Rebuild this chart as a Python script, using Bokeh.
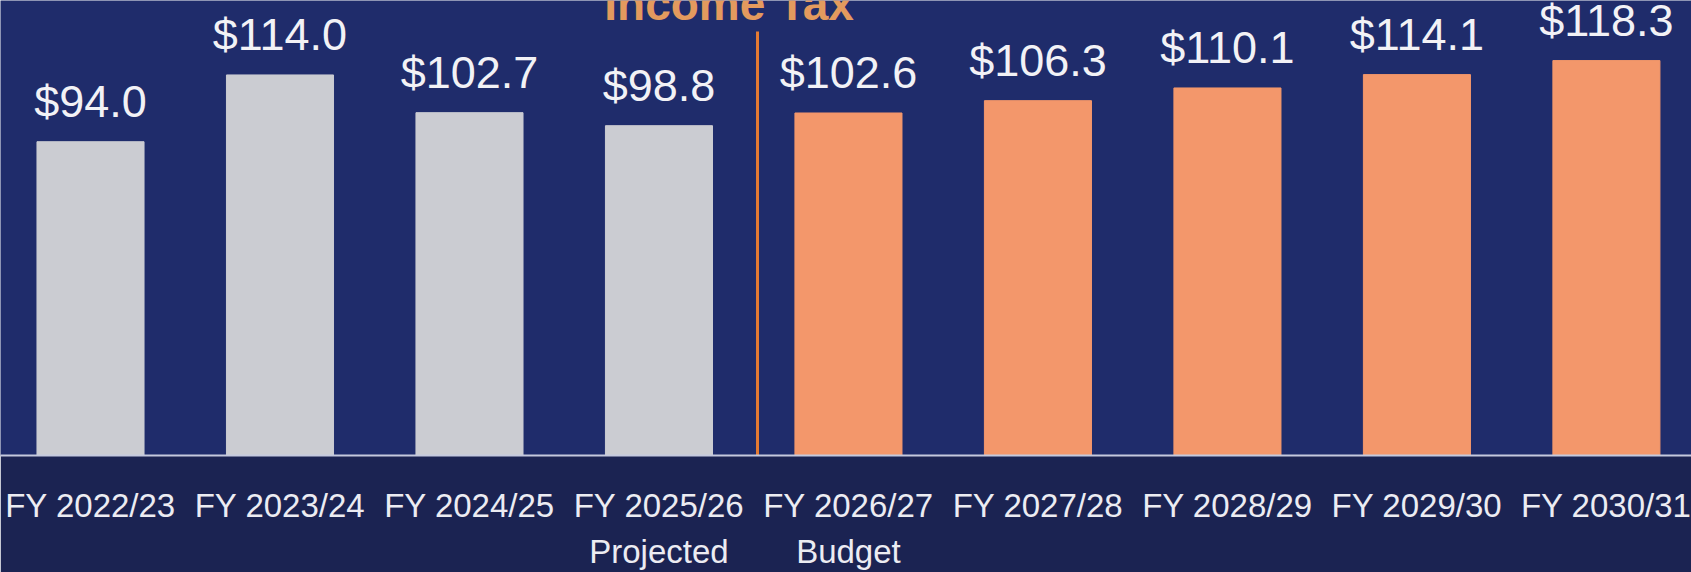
from bokeh.plotting import figure
from bokeh.models import ColumnDataSource, Range1d, FixedTicker, LabelSet, Label
from bokeh.core.properties import value
from bokeh.embed import file_html
from bokeh.resources import INLINE

categories = ["FY 2022/23", "FY 2023/24", "FY 2024/25", "FY 2025/26", "FY 2026/27",
              "FY 2027/28", "FY 2028/29", "FY 2029/30", "FY 2030/31"]
values = [94.0, 114.0, 102.7, 98.8, 102.6, 106.3, 110.1, 114.1, 118.3]
sublabels = {3: "Projected", 4: "Budget"}
title_text = "Income Tax"
n_actual = 4  # first bars (actual / projected) in grey, budget & forecast in orange

GREY = "#cbccd2"
ORANGE = "#f3976b"
BG = "#1f2c6b"
BORDER = "#1b2352"
FONT = "Liberation Sans"

idx = list(range(len(categories)))
colors = [GREY if i < n_actual else ORANGE for i in idx]
labels = ["$%.1f" % v for v in values]
tick_text = {i: (c + "\n" + sublabels[i]) if i in sublabels else c
             for i, c in zip(idx, categories)}

src = ColumnDataSource(dict(x=idx, top=values, color=colors, label=labels))

p = figure(width=1691, height=572, output_backend="svg", toolbar_location=None,
           x_range=Range1d(-0.475, 8.449), y_range=Range1d(0, 136.3),
           min_border_left=0, min_border_right=0, min_border_top=0, min_border_bottom=116)
p.background_fill_color = BG
p.border_fill_color = BORDER
p.outline_line_color = None
p.xgrid.visible = False
p.ygrid.visible = False
p.yaxis.visible = False

p.vbar(x="x", top="top", width=0.565, color="color", source=src)

# divider between projected and budget years
p.segment(x0=[3.52], y0=[0], x1=[3.52], y1=[127.0], line_color="#e57b33", line_width=3)

lbl = LabelSet(x="x", y="top", text="label", source=src, y_offset=25,
               text_align="center", text_baseline="alphabetic",
               text_font=value(FONT), text_font_size="45px", text_color="#f2f2f6")
p.add_layout(lbl)

ax = p.xaxis[0]
ax.ticker = FixedTicker(ticks=idx)
ax.major_label_overrides = tick_text
ax.major_label_text_font = FONT
ax.major_label_text_font_size = "33px"
ax.major_label_text_color = "#ececf2"
ax.major_label_text_line_height = 1.25
ax.major_label_standoff = 25
ax.major_tick_line_color = None
ax.minor_tick_line_color = None
ax.axis_line_color = "#c5c9de"
ax.axis_line_width = 2

p.add_layout(Label(x=3.37, y=135.2, text=title_text, text_align="center",
                   text_baseline="alphabetic", text_font=FONT, text_font_style="bold",
                   text_font_size="46px", text_color="#e39a5e"))

open("out.html", "w").write(file_html(p, INLINE))
